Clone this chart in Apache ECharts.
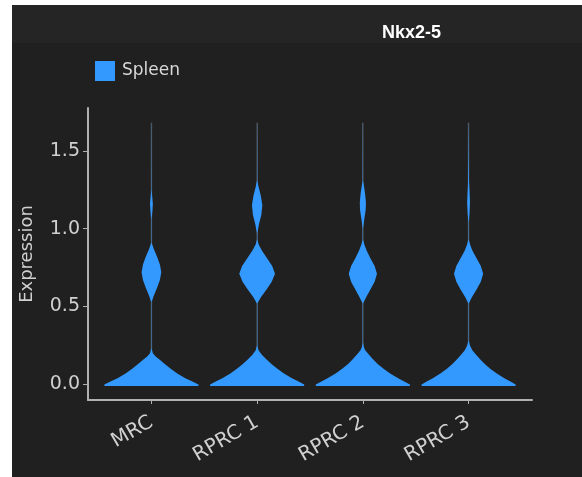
<!DOCTYPE html>
<html>
<head>
<meta charset="utf-8">
<script src="https://cdn.jsdelivr.net/npm/echarts@6/dist/echarts.min.js"></script>
<style>
  html, body { margin: 0; padding: 0; background: #fff; }
  #d_chart { width: 582px; height: 477px; }
</style>
</head>
<body>
<div id="d_chart"></div>
<script>
// categories and tick labels
var cats = ['MRC', 'RPRC 1', 'RPRC 2', 'RPRC 3']
var yTicks = [0, 0.5, 1.0, 1.5]
// top of each violin (thin line extent)
var maxVals = [1.68, 1.68, 1.68, 1.68]
// density profiles: [expression, relative half-width]
var mrcShape = [[-0.01, 1.0], [0, 1.0], [0.02, 0.86], [0.04, 0.72], [0.07, 0.55], [0.10, 0.41], [0.13, 0.29], [0.16, 0.17], [0.18, 0.09], [0.2, 0.03], [0.23, 0.004],
  [0.53, 0.004], [0.57, 0.05], [0.62, 0.12], [0.67, 0.18], [0.72, 0.21], [0.77, 0.18], [0.82, 0.12], [0.87, 0.05], [0.91, 0.004],
  [1.06, 0.004], [1.11, 0.02], [1.16, 0.03], [1.21, 0.015], [1.25, 0.004], [1.68, 0.002]]
var rprc1Shape = [[-0.01, 1.0], [0, 1.0], [0.02, 0.87], [0.04, 0.74], [0.07, 0.57], [0.10, 0.43], [0.13, 0.31], [0.16, 0.2], [0.19, 0.1], [0.22, 0.03], [0.25, 0.004],
  [0.52, 0.004], [0.56, 0.08], [0.61, 0.2], [0.66, 0.31], [0.71, 0.38], [0.76, 0.32], [0.81, 0.21], [0.86, 0.1], [0.9, 0.03], [0.93, 0.004],
  [0.97, 0.004], [1.03, 0.04], [1.09, 0.09], [1.15, 0.11], [1.21, 0.08], [1.27, 0.03], [1.31, 0.004], [1.68, 0.002]]
var rprc2Shape = [[-0.01, 1.0], [0, 1.0], [0.02, 0.87], [0.04, 0.75], [0.07, 0.58], [0.10, 0.44], [0.13, 0.32], [0.16, 0.22], [0.19, 0.13], [0.22, 0.05], [0.24, 0.02], [0.27, 0.004],
  [0.52, 0.004], [0.56, 0.07], [0.61, 0.16], [0.66, 0.25], [0.71, 0.30], [0.76, 0.25], [0.81, 0.16], [0.86, 0.08], [0.9, 0.03], [0.93, 0.004],
  [1.0, 0.004], [1.06, 0.03], [1.12, 0.06], [1.17, 0.065], [1.23, 0.045], [1.28, 0.02], [1.31, 0.004], [1.68, 0.002]]
var rprc3Shape = [[-0.01, 1.0], [0, 1.0], [0.02, 0.88], [0.04, 0.76], [0.07, 0.6], [0.10, 0.46], [0.13, 0.35], [0.16, 0.25], [0.19, 0.16], [0.22, 0.08], [0.25, 0.03], [0.28, 0.004],
  [0.52, 0.004], [0.56, 0.07], [0.61, 0.17], [0.66, 0.26], [0.71, 0.31], [0.76, 0.26], [0.81, 0.17], [0.86, 0.08], [0.9, 0.03], [0.93, 0.004],
  [1.04, 0.004], [1.1, 0.02], [1.17, 0.03], [1.24, 0.02], [1.3, 0.01], [1.45, 0.006], [1.68, 0.002]]
var shapes = [mrcShape, rprc1Shape, rprc2Shape, rprc3Shape]

var chart = echarts.init(document.getElementById('d_chart'))
var maxHalf = 0.445 // half-width of the widest point, in category units

var option = {
  animation: false,
  graphic: [
    { type: 'rect', silent: true, z: -10, shape: { x: 12, y: 5, width: 570, height: 472 }, style: { fill: '#202020' } },
    { type: 'rect', silent: true, z: -9, shape: { x: 12, y: 5, width: 570, height: 38 }, style: { fill: '#252525' } }
  ],
  title: {
    text: 'Nkx2-5',
    left: 377,
    top: 19,
    textStyle: { color: '#ffffff', fontSize: 18, fontWeight: 'bold', fontFamily: 'Liberation Sans' }
  },
  legend: {
    left: 95,
    top: 61,
    padding: 0,
    icon: 'rect',
    itemWidth: 20,
    itemHeight: 20,
    textStyle: { color: '#d8d8d8', fontSize: 17, fontFamily: 'DejaVu Sans', padding: [0, 0, 0, 2] },
    data: ['Spleen']
  },
  grid: { left: 88, right: 50, top: 108, bottom: 77 },
  xAxis: {
    type: 'value',
    min: -0.6,
    max: 3.6,
    splitLine: { show: false },
    axisLine: { onZero: false, lineStyle: { color: '#b0b0b0', width: 2 } },
    axisTick: { show: true, length: 4, customValues: [0, 1, 2, 3], lineStyle: { color: '#b0b0b0' } },
    axisLabel: {
      customValues: [0, 1, 2, 3],
      rotate: 30,
      margin: 21,
      color: '#d0d0d0',
      fontSize: 20,
      fontFamily: 'DejaVu Sans',
      formatter: function (v) { return cats[Math.round(v)] }
    }
  },
  yAxis: {
    type: 'value',
    min: -0.1,
    max: 1.775,
    name: 'Expression',
    nameLocation: 'middle',
    nameGap: 52,
    nameTextStyle: { color: '#d0d0d0', fontSize: 18, fontFamily: 'DejaVu Sans' },
    splitLine: { show: false },
    axisLine: { show: true, onZero: false, lineStyle: { color: '#b0b0b0', width: 2 } },
    axisTick: { show: true, length: 5, customValues: yTicks, lineStyle: { color: '#b0b0b0' } },
    axisLabel: {
      customValues: yTicks,
      margin: 8,
      color: '#d0d0d0',
      fontSize: 19,
      fontFamily: 'DejaVu Sans',
      formatter: function (v) { return v.toFixed(1) }
    }
  },
  series: [{
    name: 'Spleen',
    type: 'custom',
    itemStyle: { color: '#3399ff' },
    data: cats.map(function (c, i) { return [i, maxVals[i]] }),
    renderItem: function (params, api) {
      var i = api.value(0)
      var prof = shapes[i]
      var right = []
      var left = []
      prof.forEach(function (p) {
        right.push(api.coord([i + p[1] * maxHalf, p[0]]))
        left.unshift(api.coord([i - p[1] * maxHalf, p[0]]))
      })
      var bottom = api.coord([i, 0])
      var top = api.coord([i, api.value(1)])
      return {
        type: 'group',
        children: [
          {
            type: 'line',
            shape: { x1: bottom[0], y1: bottom[1], x2: top[0], y2: top[1] },
            style: { stroke: 'rgba(120,120,120,0.5)', lineWidth: 1.5 }
          },
          {
            type: 'polygon',
            shape: { points: right.concat(left) },
            style: { fill: '#3399ff' }
          }
        ]
      }
    }
  }]
}
chart.setOption(option, true)
</script>
</body>
</html>
